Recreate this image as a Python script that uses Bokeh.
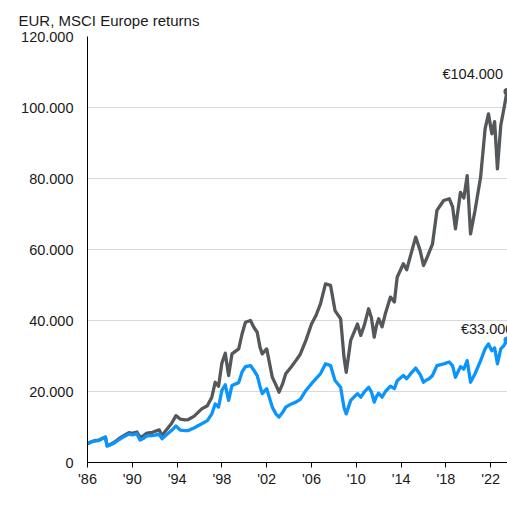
from bokeh.plotting import figure
from bokeh.models import FixedTicker, Legend, LegendItem, ColumnDataSource, Range1d
from bokeh.core.properties import value
from bokeh.embed import file_html
from bokeh.resources import INLINE

# decimal years
years = [1986.0, 1986.4, 1986.7, 1987.0, 1987.45, 1987.6, 1987.75, 1988.0, 1988.4, 1988.8,
         1989.2, 1989.7, 1990.0, 1990.4, 1990.7, 1991.0, 1991.3, 1991.8, 1992.4, 1992.65,
         1993.0, 1993.5, 1993.9, 1994.3, 1994.7, 1995.0, 1995.5, 1996.2, 1996.7, 1997.1,
         1997.4, 1997.7, 1998.0, 1998.3, 1998.6, 1998.9, 1999.5, 1999.8, 2000.1, 2000.55,
         2000.85, 2001.15, 2001.4, 2001.6, 2002.0, 2002.5, 2002.8, 2003.1, 2003.4, 2003.7,
         2004.2, 2004.6, 2005.0, 2005.5, 2006.0, 2006.4, 2006.8, 2007.25, 2007.7, 2008.1,
         2008.6, 2008.9, 2009.1, 2009.5, 2010.1, 2010.4, 2010.7, 2011.1, 2011.35, 2011.6,
         2011.8, 2012.0, 2012.3, 2012.6, 2013.05, 2013.4, 2013.65, 2014.2, 2014.5, 2014.8,
         2015.3, 2015.7, 2016.0, 2016.3, 2016.5, 2016.8, 2017.2, 2017.8, 2018.3, 2018.6,
         2018.85, 2019.3, 2019.6, 2019.9, 2020.2, 2020.6, 2021.1, 2021.5, 2021.8, 2022.1,
         2022.35, 2022.6, 2022.9, 2023.2, 2023.45]

# values in thousands of EUR
with_dividends = [5.3, 5.9, 6.2, 6.3, 7.0, 7.2, 4.8, 5.0, 5.7, 6.7,
                  7.5, 8.4, 8.2, 8.6, 7.1, 7.5, 8.3, 8.5, 9.2, 7.6,
                  9.0, 11.0, 13.2, 12.2, 12.0, 12.1, 13.0, 15.1, 16.0, 18.4,
                  22.6, 21.5, 28.0, 30.8, 24.5, 30.6, 32.0, 36.2, 39.5, 40.0,
                  38.1, 36.7, 32.5, 30.6, 32.0, 24.0, 22.0, 19.8, 22.0, 25.0,
                  27.0, 28.7, 30.5, 34.4, 39.0, 41.4, 44.7, 50.3, 49.9, 42.8,
                  40.5, 29.7, 25.4, 34.4, 39.0, 35.8, 38.5, 43.3, 40.8, 35.3,
                  38.6, 40.5, 38.2, 42.0, 46.6, 45.2, 52.2, 56.0, 54.3, 57.8,
                  63.5, 59.7, 55.5, 57.6, 59.2, 61.5, 71.0, 73.8, 74.3, 72.0,
                  65.8, 76.1, 74.5, 80.8, 64.4, 71.0, 80.4, 94.0, 98.2, 92.6,
                  96.0, 82.7, 95.0, 100.0, 104.5]

without_dividends = [5.3, 5.9, 6.1, 6.2, 6.9, 7.1, 4.6, 4.9, 5.5, 6.4,
                     7.2, 8.0, 7.8, 8.1, 6.3, 6.8, 7.5, 7.6, 8.0, 6.7,
                     7.7, 9.0, 10.3, 9.1, 9.0, 9.0, 9.7, 10.9, 11.8, 13.7,
                     16.5, 15.6, 20.3, 21.9, 17.5, 21.7, 22.5, 25.5, 27.0, 27.3,
                     26.0, 24.5, 21.5, 19.4, 20.8, 15.6, 13.8, 12.8, 14.0, 15.6,
                     16.5, 17.0, 17.8, 20.3, 22.2, 23.6, 25.0, 27.8, 27.3, 23.1,
                     21.2, 15.5, 13.7, 17.5, 19.4, 18.4, 19.8, 21.2, 19.9, 17.0,
                     18.6, 19.5, 18.4, 20.0, 21.5, 20.8, 23.0, 24.5, 23.6, 24.8,
                     26.6, 24.8, 22.6, 23.3, 23.6, 24.5, 27.3, 27.8, 28.3, 27.2,
                     24.0, 27.0, 26.3, 28.7, 22.6, 25.0, 28.7, 32.0, 33.4, 31.5,
                     32.3, 27.8, 32.0, 33.0, 34.5]

series_names = ["With dividends reinvested", "Without dividends reinvested"]
end_labels = ["\u20ac104.000", "\u20ac33.000"]
x_ticks = [1986, 1990, 1994, 1998, 2002, 2006, 2010, 2014, 2018, 2022]
x_tick_labels = ["'86", "'90", "'94", "'98", "'02", "'06", "'10", "'14", "'18", "'22"]
y_ticks = [0, 20000, 40000, 60000, 80000, 100000, 120000]
y_tick_labels = ["0", "20.000", "40.000", "60.000", "80.000", "100.000", "120.000"]
title_text = "EUR, MSCI Europe returns"

GREY = "#54585a"
BLUE = "#0a94fc"
FONT = "Liberation Sans"
TXT = "#1a1a1a"

src = ColumnDataSource(dict(
    x=years,
    w=[v * 1000 for v in with_dividends],
    wo=[v * 1000 for v in without_dividends],
))

p = figure(width=507, height=509, frame_width=420, frame_height=426,
           output_backend="svg", toolbar_location=None,
           x_range=Range1d(1986, 2023.5), y_range=Range1d(0, 120000),
           min_border_left=87, min_border_right=0, min_border_top=36, min_border_bottom=0)
p.outline_line_color = None
p.background_fill_color = "white"
p.border_fill_color = "white"

p.title.text = title_text
p.title.align = "left"
p.title.text_font = FONT
p.title.text_font_size = "15px"
p.title.text_font_style = "normal"
p.title.text_color = TXT
p.title.offset = -69
p.title.standoff = 16

p.xgrid.grid_line_color = None
p.ygrid.grid_line_color = "#d9d9d9"
p.ygrid.grid_line_width = 1
p.ygrid.ticker = FixedTicker(ticks=y_ticks)

p.xaxis.ticker = FixedTicker(ticks=x_ticks)
p.xaxis.major_label_overrides = {t: l for t, l in zip(x_ticks, x_tick_labels)}
p.xaxis.minor_tick_line_color = None
p.xaxis.major_tick_out = 5
p.xaxis.major_tick_in = 0
p.xaxis.major_label_standoff = 3
p.xaxis.axis_line_color = "black"
p.xaxis.major_tick_line_color = "black"
p.xaxis.axis_label = None
p.xaxis.axis_label_standoff = 0
p.xaxis.axis_label_text_font_size = "0px"

p.yaxis.ticker = FixedTicker(ticks=y_ticks)
p.yaxis.major_label_overrides = {t: l for t, l in zip(y_ticks, y_tick_labels)}
p.yaxis.minor_tick_line_color = None
p.yaxis.major_tick_line_color = None
p.yaxis.major_tick_out = 0
p.yaxis.major_tick_in = 0
p.yaxis.major_label_standoff = 14
p.yaxis.axis_line_color = "black"

for ax in (p.xaxis, p.yaxis):
    ax.major_label_text_font = FONT
    ax.major_label_text_font_size = "14.5px"
    ax.major_label_text_color = TXT

p.line("x", "w", source=src, line_color=GREY, line_width=3.3, line_join="round")
p.line("x", "wo", source=src, line_color=BLUE, line_width=3.3, line_join="round")

dot_w = p.ellipse([years[-1]], [with_dividends[-1] * 1000], width=7, height=7,
                  width_units="screen", height_units="screen", fill_color=GREY, line_color=None)
dot_wo = p.ellipse([years[-1]], [without_dividends[-1] * 1000], width=7, height=7,
                   width_units="screen", height_units="screen", fill_color=BLUE, line_color=None)

p.text([years[-1]], [with_dividends[-1] * 1000], text=[end_labels[0]],
       text_align="right", text_baseline="bottom", x_offset=-4, y_offset=-10,
       text_font=value(FONT), text_font_size="14.5px", text_color=TXT)
p.text([years[-1]], [without_dividends[-1] * 1000], text=[end_labels[1]],
       text_align="left", text_baseline="bottom", x_offset=-46, y_offset=-3,
       text_font=value(FONT), text_font_size="14.5px", text_color=TXT)

legend = Legend(items=[LegendItem(label=series_names[0], renderers=[dot_w]),
                       LegendItem(label=series_names[1], renderers=[dot_wo])],
                orientation="horizontal", location="top_left",
                glyph_width=22, glyph_height=20, label_height=16, label_standoff=1, spacing=1,
                padding=0, margin=0, border_line_color=None, background_fill_alpha=0,
                label_text_font=FONT, label_text_font_size="15px", label_text_color=TXT)
p.add_layout(legend, "below")

open("out.html", "w").write(file_html(p, INLINE))
